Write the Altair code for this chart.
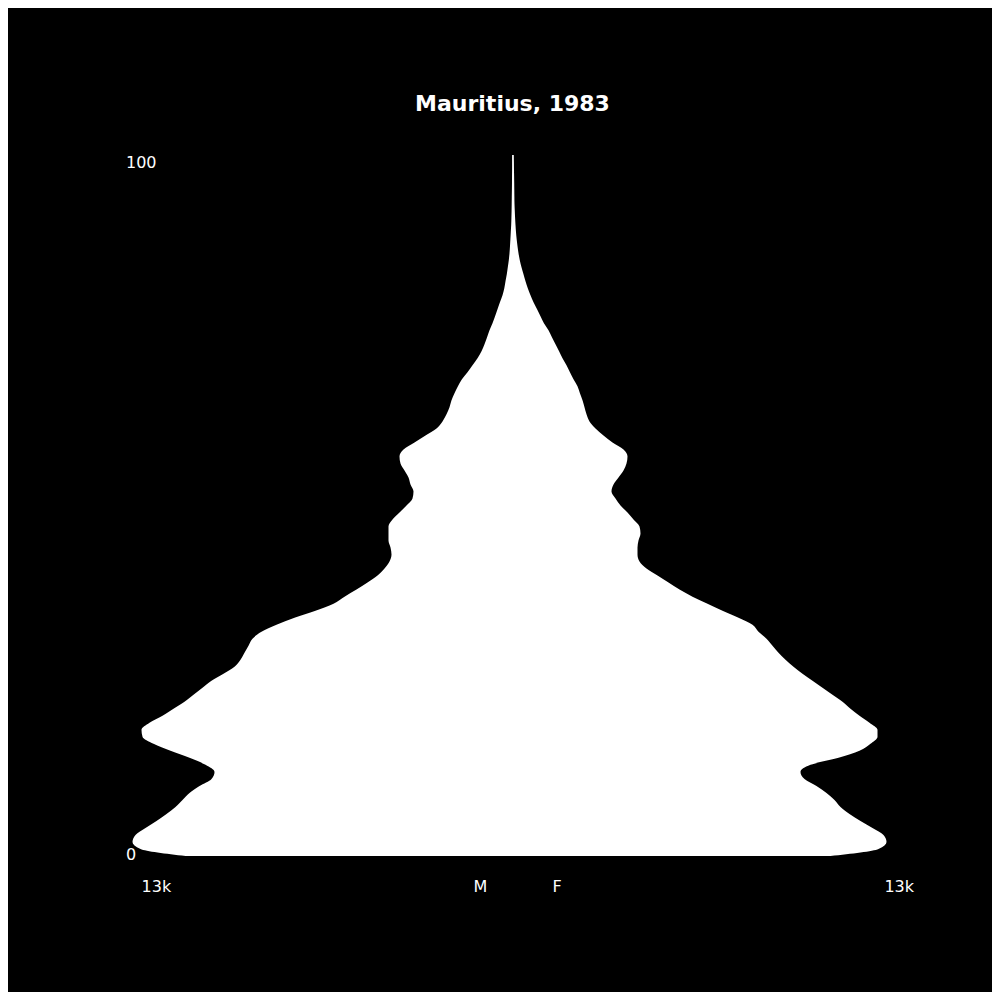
import altair as alt
import pandas as pd

ages = list(range(0, 101))

male = [
    11440, 13020, 13300, 13195, 12845, 12460, 12110, 11795, 11550, 11305,
    10955, 10535, 10430, 10745, 11305, 11970, 12565, 12950, 12985, 12705,
    12250, 11865, 11480, 11165, 10850, 10535, 10115, 9730, 9520, 9380,
    9240, 9100, 8785, 8260, 7630, 6895, 6265, 5880, 5460, 5075,
    4725, 4480, 4305, 4235, 4270, 4340, 4340, 4340, 4200, 3955,
    3710, 3500, 3465, 3570, 3640, 3780, 3920, 3955, 3815, 3430,
    3045, 2660, 2450, 2310, 2205, 2135, 2030, 1910, 1770, 1575,
    1400, 1225, 1085, 980, 890, 805, 700, 610, 525, 440,
    350, 287, 245, 200, 165, 130, 105, 88, 73, 60,
    46, 38, 32, 28, 25, 21, 18, 17, 14, 14,
    14,
]

female = [
    11130, 12810, 13090, 12985, 12600, 12180, 11795, 11480, 11270, 10990,
    10640, 10220, 10080, 10430, 11410, 12145, 12530, 12775, 12775, 12495,
    12145, 11830, 11550, 11200, 10850, 10500, 10150, 9835, 9555, 9310,
    9100, 8890, 8610, 8400, 7910, 7350, 6825, 6300, 5845, 5460,
    5075, 4690, 4445, 4375, 4375, 4410, 4480, 4445, 4235, 4025,
    3780, 3605, 3465, 3535, 3710, 3885, 3990, 4025, 3885, 3500,
    3185, 2905, 2695, 2590, 2520, 2450, 2360, 2275, 2135, 2010,
    1890, 1750, 1630, 1505, 1380, 1260, 1100, 980, 860, 735,
    630, 535, 455, 385, 315, 255, 210, 175, 145, 122,
    105, 91, 80, 70, 66, 63, 60, 56, 52, 49,
    45,
]

x_tick_values = [-13000, -1380, 1380, 13000]
x_tick_labels = ["13k", "M", "F", "13k"]
y_tick_values = [0, 100]
title_text = "Mauritius, 1983"

df = pd.DataFrame({
    "age": ages,
    "left": [-m for m in male],
    "female": female,
})

label_expr = (
    f"datum.value < -5000 ? '{x_tick_labels[0]}' : "
    f"datum.value < 0 ? '{x_tick_labels[1]}' : "
    f"datum.value < 5000 ? '{x_tick_labels[2]}' : '{x_tick_labels[3]}'"
)

chart = (
    alt.Chart(df)
    .mark_area(orient="horizontal", interpolate="monotone", color="white")
    .encode(
        y=alt.Y(
            "age:Q",
            scale=alt.Scale(domain=[0, 100], nice=False, zero=False),
            axis=alt.Axis(
                values=y_tick_values,
                title=None,
                grid=False,
                domain=False,
                ticks=False,
                tickSize=0,
                labelAlign="left",
                labelPadding=7,
                labelColor="white",
                labelFont="DejaVu Sans",
                labelFontSize=16,
                labelBaseline={"condition": {"test": "datum.value >= 100", "value": "top"}, "value": "middle"},
                labelOffset={"condition": {"test": "datum.value >= 100", "value": -1}, "value": -2},
            ),
        ),
        x=alt.X(
            "left:Q",
            scale=alt.Scale(domain=[-13300, 13300], nice=False, zero=False),
            axis=alt.Axis(
                values=x_tick_values,
                labelExpr=label_expr,
                title=None,
                grid=False,
                domain=False,
                ticks=False,
                tickSize=0,
                labelAlign="left",
                labelBaseline="top",
                labelFlush=False,
                labelOverlap=False,
                labelPadding=22,
                labelColor="white",
                labelFont="DejaVu Sans",
                labelFontSize=16,
            ),
        ),
        x2="female:Q",
    )
    .properties(
        width=760,
        height=701,
        title=alt.TitleParams(
            text=title_text,
            color="white",
            font="DejaVu Sans",
            fontSize=22,
            fontWeight="bold",
            anchor="middle",
            frame="group",
            baseline="bottom",
            offset=16,
        ),
        autosize=alt.AutoSizeParams(type="none"),
        padding={"left": 124.5, "top": 147, "right": 99.5, "bottom": 136},
        usermeta={"embedOptions": {"defaultStyle": "body { background: #000000; }"}},
    )
    .configure(background="black")
    .configure_view(strokeWidth=0)
)

chart.save("out.html", embed_options={"renderer": "svg", "actions": False})
